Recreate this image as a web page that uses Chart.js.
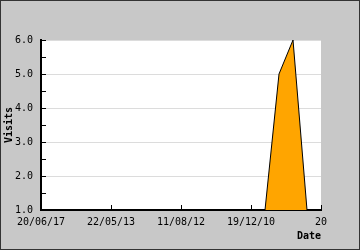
<!DOCTYPE html>
<html>
<head>
<meta charset="utf-8">
<script src="https://cdn.jsdelivr.net/npm/chart.js@4/dist/chart.umd.min.js"></script>
<style>
html,body{margin:0;padding:0;background:#c8c8c8;}
#wrap{width:360px;height:250px;position:relative;}
</style>
</head>
<body>
<div id="wrap"><canvas id="c"></canvas></div>
<script>
// ---- data ----
const tickLabels = ["20/06/17", "22/05/13", "11/08/12", "19/12/10", "20"];
const tickEvery = 5;
const visits = [1,1,1,1,1, 1,1,1,1,1, 1,1,1,1,1, 1,1,5,6,1, 1];
const yTicks = [1,2,3,4,5,6];
const yTitle = "Visits";
const xTitle = "Date";

const categories = visits.map((v, i) => (i % tickEvery === 0 ? tickLabels[i / tickEvery] : ""));

const FONT = "'DejaVu Sans Mono', monospace";

const bgPlugin = {
  id: 'bg',
  beforeDraw(chart) {
    const {ctx, chartArea: a, width, height} = chart;
    ctx.save();
    ctx.fillStyle = '#c8c8c8';
    ctx.fillRect(0, 0, width, height);
    ctx.fillStyle = '#ffffff';
    ctx.fillRect(a.left, a.top, a.right - a.left, a.bottom - a.top);
    ctx.restore();
  },
  afterDraw(chart) {
    const {ctx, chartArea: a, width, height} = chart;
    const ys = chart.scales.y, xs = chart.scales.x;
    ctx.save();
    ctx.strokeStyle = '#000';
    ctx.lineWidth = 1;
    ctx.beginPath();
    for (let v = yTicks[0]; v <= yTicks[yTicks.length - 1] + 1e-9; v += 0.5) {
      const py = Math.round(ys.getPixelForValue(v)) + 0.5;
      ctx.moveTo(a.left, py);
      ctx.lineTo(a.left + 5, py);
    }
    for (let i = 0; i < categories.length; i += tickEvery) {
      const px = Math.round(xs.getPixelForValue(i)) + 0.5;
      ctx.moveTo(px, a.bottom);
      ctx.lineTo(px, a.bottom - 5);
    }
    ctx.stroke();
    ctx.strokeStyle = '#333';
    ctx.strokeRect(0.5, 0.5, width - 1, height - 1);
    ctx.restore();
  }
};

new Chart(document.getElementById('c'), {
  type: 'line',
  data: {
    labels: categories,
    datasets: [{
      data: visits,
      borderColor: '#000',
      borderWidth: 1,
      backgroundColor: '#ffa500',
      fill: 'start',
      pointRadius: 0,
      tension: 0
    }]
  },
  options: {
    responsive: true,
    maintainAspectRatio: false,
    animation: false,
    devicePixelRatio: 1,
    layout: { autoPadding: false, padding: { left: 0, top: 40, right: 39, bottom: 0 } },
    plugins: { legend: { display: false }, tooltip: { enabled: false } },
    scales: {
      x: {
        type: 'category',
        offset: false,
        grid: { display: false, drawTicks: false },
        border: { display: true, color: '#000', width: 2 },
        ticks: {
          autoSkip: false, maxRotation: 0, padding: 6, color: '#000',
          font: { family: FONT, size: 10 },
          callback: (v, i) => categories[i]
        },
        title: {
          display: true, text: xTitle, align: 'end', color: '#000',
          font: { family: FONT, size: 10, weight: 'bold' },
          padding: { top: 0, bottom: 8 }
        },
        afterFit(s) { s.height = 40; }
      },
      y: {
        min: 1, max: 6,
        grid: {
          drawTicks: false,
          color: ctx => (Number.isInteger(ctx.tick.value) ? '#dcdcdc' : 'rgba(0,0,0,0)')
        },
        border: { display: true, color: '#000', width: 2 },
        ticks: {
          stepSize: 0.5, padding: 8, color: '#000',
          font: { family: FONT, size: 10 },
          callback: v => (Number.isInteger(v) ? v.toFixed(1) : '')
        },
        title: {
          display: true, text: yTitle, color: '#000',
          font: { family: FONT, size: 10, weight: 'bold' },
          padding: { top: 3, bottom: 0 }
        },
        afterFit(s) { s.width = 41; }
      }
    }
  },
  plugins: [bgPlugin]
});
</script>
</body>
</html>
